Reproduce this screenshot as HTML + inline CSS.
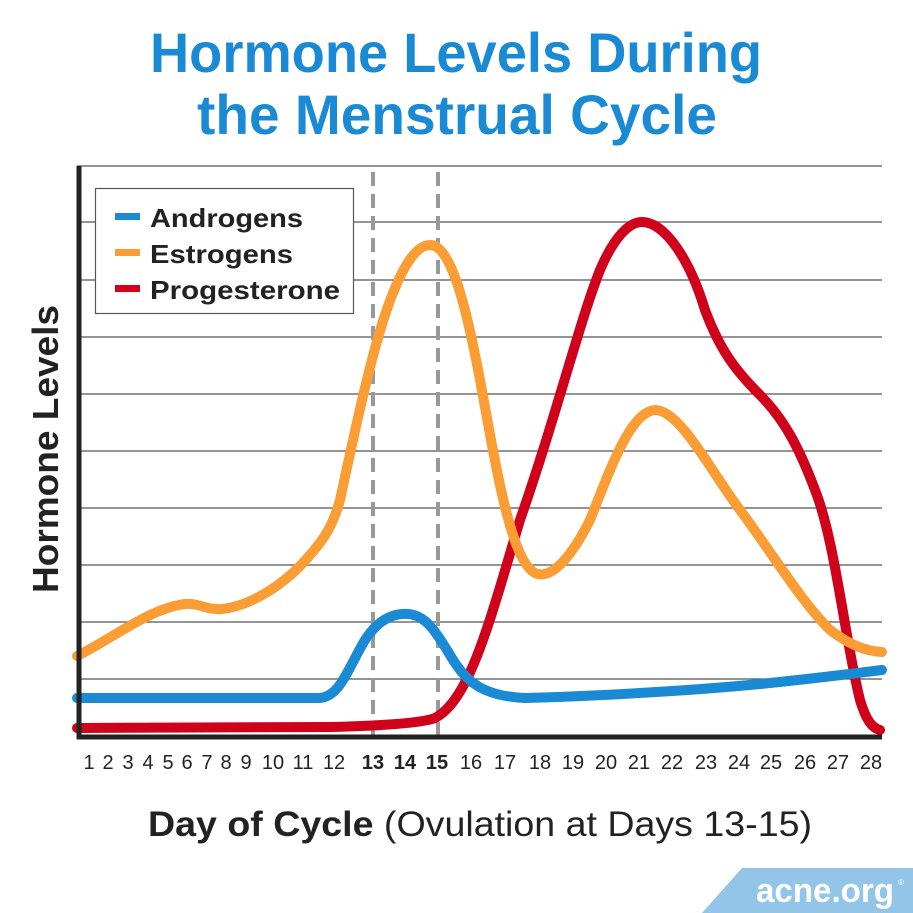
<!DOCTYPE html>
<html><head><style>
html,body{margin:0;padding:0;background:#fff;}
svg{display:block;font-family:"Liberation Sans",Arial,sans-serif;}
</style></head><body>
<svg width="913" height="913" viewBox="0 0 913 913" xmlns="http://www.w3.org/2000/svg">
<text x="456" y="72" text-anchor="middle" font-size="56" font-weight="bold" fill="#1a8ad4" textLength="612" lengthAdjust="spacingAndGlyphs">Hormone Levels During</text>
<text x="457" y="134" text-anchor="middle" font-size="56" font-weight="bold" fill="#1a8ad4" textLength="520" lengthAdjust="spacingAndGlyphs">the Menstrual Cycle</text>
<g stroke="#555" stroke-width="1.3">
<line x1="77" y1="166" x2="882" y2="166"/><line x1="77" y1="222" x2="882" y2="222"/><line x1="77" y1="280" x2="882" y2="280"/><line x1="77" y1="337" x2="882" y2="337"/><line x1="77" y1="394" x2="882" y2="394"/><line x1="77" y1="451" x2="882" y2="451"/><line x1="77" y1="508" x2="882" y2="508"/><line x1="77" y1="565" x2="882" y2="565"/><line x1="77" y1="622" x2="882" y2="622"/><line x1="77" y1="679" x2="882" y2="679"/>
</g>
<g stroke="#999" stroke-width="4" stroke-dasharray="14,8">
<line x1="373" y1="172" x2="373" y2="736"/><line x1="438" y1="172" x2="438" y2="736"/>
</g>
<g fill="none" stroke-width="10" stroke-linecap="round" stroke-linejoin="round">
<path stroke="#d0021b" d="M77,728 L330,727 C370,726 420,724 435,718 C470,700 490,620 520,520 C555,420 580,320 600,270 C615,235 630,222 642,222 C665,222 690,260 705,310 C720,350 735,370 760,395 C785,420 800,450 815,490 C835,540 845,640 860,700 C866,720 872,728 880,730"/>
<path stroke="#fb9d35" d="M77,656 C110,640 150,608 185,604 C200,603 205,610 222,609 C250,606 285,585 310,555 C325,538 333,525 340,500 C355,430 370,360 385,315 C400,270 415,245 430,245 C450,245 465,300 480,380 C495,460 510,560 535,573 C550,580 570,560 590,520 C610,470 630,412 655,410 C680,410 710,470 740,510 C770,550 800,600 830,630 C850,645 865,651 882,652"/>
<path stroke="#1a8ad4" d="M77,698 L318,698 C340,698 348,668 365,640 C378,620 393,613 408,614 C425,615 435,630 450,655 C465,680 480,696 525,698 C600,696 700,690 760,684 C810,679 850,674 882,670"/>
</g>
<line x1="79" y1="166" x2="79" y2="739" stroke="#222" stroke-width="5"/>
<line x1="77" y1="737" x2="882" y2="737" stroke="#222" stroke-width="5"/>
<rect x="95.5" y="188.5" width="258" height="125" fill="#fff" stroke="#555" stroke-width="1.2"/>
<rect x="115" y="213" width="25" height="7" fill="#1a8ad4"/>
<rect x="115" y="249" width="25" height="7" fill="#fb9d35"/>
<rect x="115" y="285" width="25" height="7" fill="#d0021b"/>
<g font-size="26" font-weight="bold" fill="#222">
<text x="150" y="227" textLength="153" lengthAdjust="spacingAndGlyphs">Androgens</text><text x="150" y="263" textLength="143" lengthAdjust="spacingAndGlyphs">Estrogens</text><text x="150" y="299" textLength="190" lengthAdjust="spacingAndGlyphs">Progesterone</text>
</g>
<text transform="translate(58,449) rotate(-90)" text-anchor="middle" font-size="36" font-weight="bold" fill="#222" textLength="288" lengthAdjust="spacingAndGlyphs">Hormone Levels</text>
<g font-size="20" fill="#222" text-anchor="middle">
<text x="89" y="769">1</text><text x="108" y="769">2</text><text x="128" y="769">3</text><text x="148" y="769">4</text><text x="168" y="769">5</text><text x="187" y="769">6</text><text x="207" y="769">7</text><text x="226" y="769">8</text><text x="246" y="769">9</text><text x="273" y="769">10</text><text x="303" y="769">11</text><text x="334" y="769">12</text>
<text x="373" y="769" font-weight="bold">13</text><text x="405" y="769" font-weight="bold">14</text><text x="437" y="769" font-weight="bold">15</text>
<text x="471" y="769">16</text><text x="505" y="769">17</text><text x="540" y="769">18</text><text x="573" y="769">19</text><text x="606" y="769">20</text><text x="639" y="769">21</text><text x="672" y="769">22</text><text x="706" y="769">23</text><text x="739" y="769">24</text><text x="771" y="769">25</text><text x="805" y="769">26</text><text x="838" y="769">27</text><text x="871" y="769">28</text>
</g>
<text x="480" y="836" text-anchor="middle" font-size="35" fill="#222" textLength="664" lengthAdjust="spacingAndGlyphs"><tspan font-weight="bold">Day of Cycle</tspan> (Ovulation at Days 13-15)</text>
<polygon points="702,913 742,868 913,868 913,913" fill="#92c5e7"/>
<text x="756" y="902" font-size="34" font-weight="bold" fill="#fff" textLength="138" lengthAdjust="spacingAndGlyphs">acne.org</text>
<text x="898" y="885" font-size="8" fill="#fff">®</text>
</svg>
</body></html>
